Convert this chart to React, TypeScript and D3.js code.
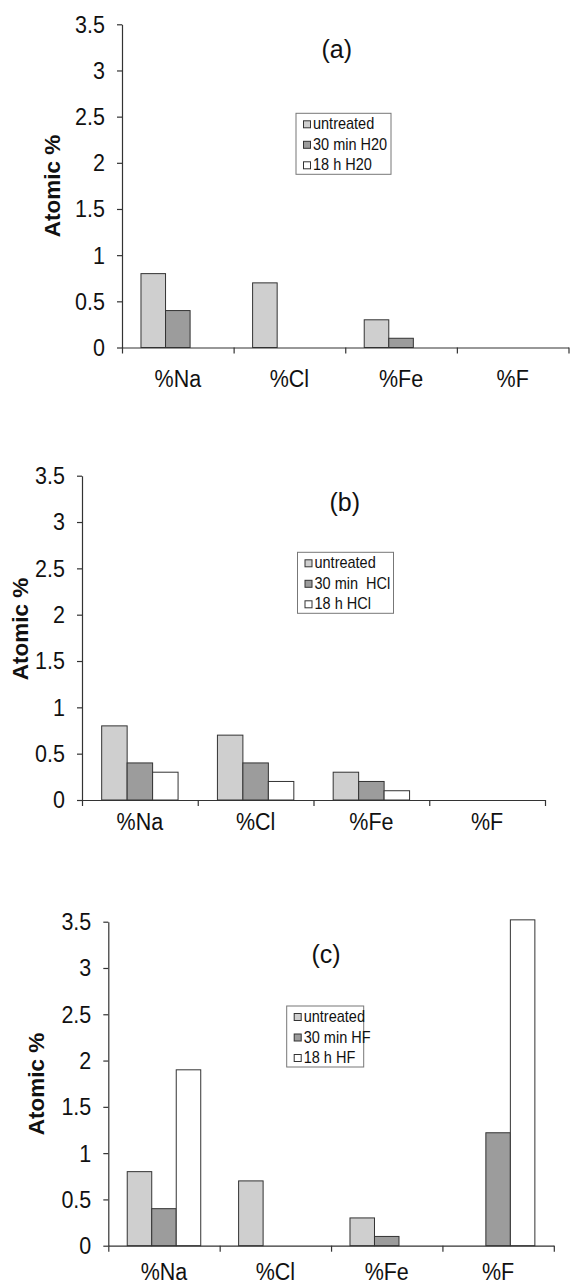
import React, { useRef, useEffect } from 'react';
import * as d3 from 'd3';

// element categories on the x axis
const categories = ['%Na', '%Cl', '%Fe', '%F'];
const yTicks = [0, 0.5, 1, 1.5, 2, 2.5, 3, 3.5];

// panel (a) - water
const seriesA = ['untreated', '30 min H20', '18 h H20'];
const untreatedA = [0.8, 0.7, 0.3, 0];
const min30A = [0.4, 0, 0.1, 0];
const h18A = [0, 0, 0, 0];

// panel (b) - HCl
const seriesB = ['untreated', '30 min  HCl', '18 h HCl'];
const untreatedB = [0.8, 0.7, 0.3, 0];
const min30B = [0.4, 0.4, 0.2, 0];
const h18B = [0.3, 0.2, 0.1, 0];

// panel (c) - HF
const seriesC = ['untreated', '30 min HF', '18 h HF'];
const untreatedC = [0.8, 0.7, 0.3, 0];
const min30C = [0.4, 0, 0.1, 1.22];
const h18C = [1.9, 0, 0, 3.52];

const barColors = ['#cfcfcf', '#9c9c9c', '#ffffff'];
const FONT = '"Liberation Sans", Arial, Helvetica, sans-serif';
// the scanned figure is a little stretched vertically
const STRETCH = 1.15;

interface PanelLayout {
  title: string;
  series: string[];
  values: number[][];
  x0: number;
  x1: number;
  yTop: number;
  yBottom: number;
  titleX: number;
  titleY: number;
  legendX: number;
  legendY: number;
  legendW: number;
  yLabelX: number;
  yLabelY: number;
  catDy: number;
}

const panels: PanelLayout[] = [
  {
    title: '(a)', series: seriesA, values: [untreatedA, min30A, h18A],
    x0: 122, x1: 568.5, yTop: 24.3, yBottom: 347.5,
    titleX: 336.7, titleY: 58,
    legendX: 296, legendY: 113.3, legendW: 95,
    yLabelX: 52, yLabelY: 186, catDy: 39,
  },
  {
    title: '(b)', series: seriesB, values: [untreatedB, min30B, h18B],
    x0: 82, x1: 545, yTop: 475.7, yBottom: 800,
    titleX: 344.7, titleY: 511,
    legendX: 297.5, legendY: 552.3, legendW: 96,
    yLabelX: 20, yLabelY: 629, catDy: 30,
  },
  {
    title: '(c)', series: seriesC, values: [untreatedC, min30C, h18C],
    x0: 108.3, x1: 553.8, yTop: 921.7, yBottom: 1245.7,
    titleX: 326, titleY: 963,
    legendX: 286.7, legendY: 1006, legendW: 77,
    yLabelX: 36, yLabelY: 1084, catDy: 34,
  },
];

const Panel: React.FC<{ p: PanelLayout }> = ({ p }) => {
  const gRef = useRef<SVGGElement | null>(null);

  useEffect(() => {
    if (!gRef.current) return;
    const g = d3.select(gRef.current);
    g.selectAll('*').remove();

    const y = d3.scaleLinear().domain([0, 3.5]).range([p.yBottom, p.yTop]);
    const xCat = d3.scaleBand().domain(categories).range([p.x0, p.x1]).padding(0);
    const step = xCat.bandwidth();
    const gap = step * 0.17;
    const xSer = d3
      .scaleBand()
      .domain(p.series)
      .range([gap, step - gap])
      .padding(0);
    const xEdge = d3.scaleLinear().domain([0, categories.length]).range([p.x0, p.x1]);

    // bars
    p.series.forEach((s, si) => {
      g.append('g')
        .selectAll('rect')
        .data(p.values[si])
        .join('rect')
        .attr('x', (_, i) => (xCat(categories[i]) as number) + (xSer(s) as number))
        .attr('y', d => y(d))
        .attr('width', xSer.bandwidth())
        .attr('height', d => y(0) - y(d))
        .attr('fill', barColors[si])
        .attr('stroke', '#333')
        .attr('stroke-width', 1);
    });

    // y axis
    const yAxis = g
      .append('g')
      .attr('transform', `translate(${p.x0},0)`)
      .call(
        d3.axisLeft(y)
          .tickValues(yTicks)
          .tickSize(5)
          .tickSizeOuter(0)
          .tickPadding(12)
          .tickFormat(d => d3.format('~g')(d as number))
      );
    yAxis
      .selectAll('text')
      .attr('font-family', FONT)
      .attr('font-size', 21.5)
      .attr('fill', '#111')
      .attr('transform', `scale(1,${STRETCH})`);

    // x axis, ticks on the category edges
    const xAxis = g
      .append('g')
      .attr('transform', `translate(0,${p.yBottom})`)
      .call(
        d3.axisBottom(xEdge)
          .tickValues(d3.range(categories.length + 1))
          .tickSize(6)
          .tickSizeOuter(0)
          .tickFormat(() => '')
      );
    [yAxis, xAxis].forEach(a => {
      a.selectAll('path, line').attr('stroke', '#333').attr('stroke-width', 1.2);
    });

    g.append('g')
      .selectAll('text')
      .data(categories)
      .join('text')
      .attr('transform', d => `translate(${(xCat(d) as number) + step / 2},${p.yBottom + p.catDy}) scale(1,${STRETCH})`)
      .attr('text-anchor', 'middle')
      .attr('font-family', FONT)
      .attr('font-size', 21.5)
      .attr('fill', '#111')
      .text(d => d);

    // y label
    g.append('text')
      .attr('transform', `translate(${p.yLabelX + 8},${p.yLabelY}) rotate(-90)`)
      .attr('text-anchor', 'middle')
      .attr('font-family', FONT)
      .attr('font-weight', 'bold')
      .attr('font-size', 22.5)
      .attr('fill', '#111')
      .text('Atomic %');

    // panel title
    g.append('text')
      .attr('transform', `translate(${p.titleX},${p.titleY}) scale(1,1.05)`)
      .attr('text-anchor', 'middle')
      .attr('font-family', FONT)
      .attr('font-size', 25)
      .attr('fill', '#111')
      .text(p.title);

    // legend
    const lg = g.append('g').attr('transform', `translate(${p.legendX},${p.legendY})`);
    lg.append('rect')
      .attr('width', p.legendW)
      .attr('height', 61)
      .attr('fill', '#fff')
      .attr('stroke', '#777')
      .attr('stroke-width', 1);
    p.series.forEach((s, si) => {
      const cy = 11 + si * 20.5;
      lg.append('rect')
        .attr('x', 7.5)
        .attr('y', cy - 3.5)
        .attr('width', 7)
        .attr('height', 7)
        .attr('fill', barColors[si])
        .attr('stroke', '#333')
        .attr('stroke-width', 1);
      lg.append('text')
        .attr('transform', `translate(17,${cy + 5}) scale(1,1.1)`)
        .attr('font-family', FONT)
        .attr('font-size', 14.5)
        .attr('fill', '#111')
        .style('white-space', 'pre')
        .text(s);
    });
  }, [p]);

  return <g ref={gRef} />;
};

export default function App() {
  return (
    <svg
      width={570}
      height={1286}
      style={{ position: 'absolute', left: 0, top: 0, background: '#fff' }}
    >
      <rect width={570} height={1286} fill="#fff" />
      {panels.map(p => (
        <Panel key={p.title} p={p} />
      ))}
    </svg>
  );
}
